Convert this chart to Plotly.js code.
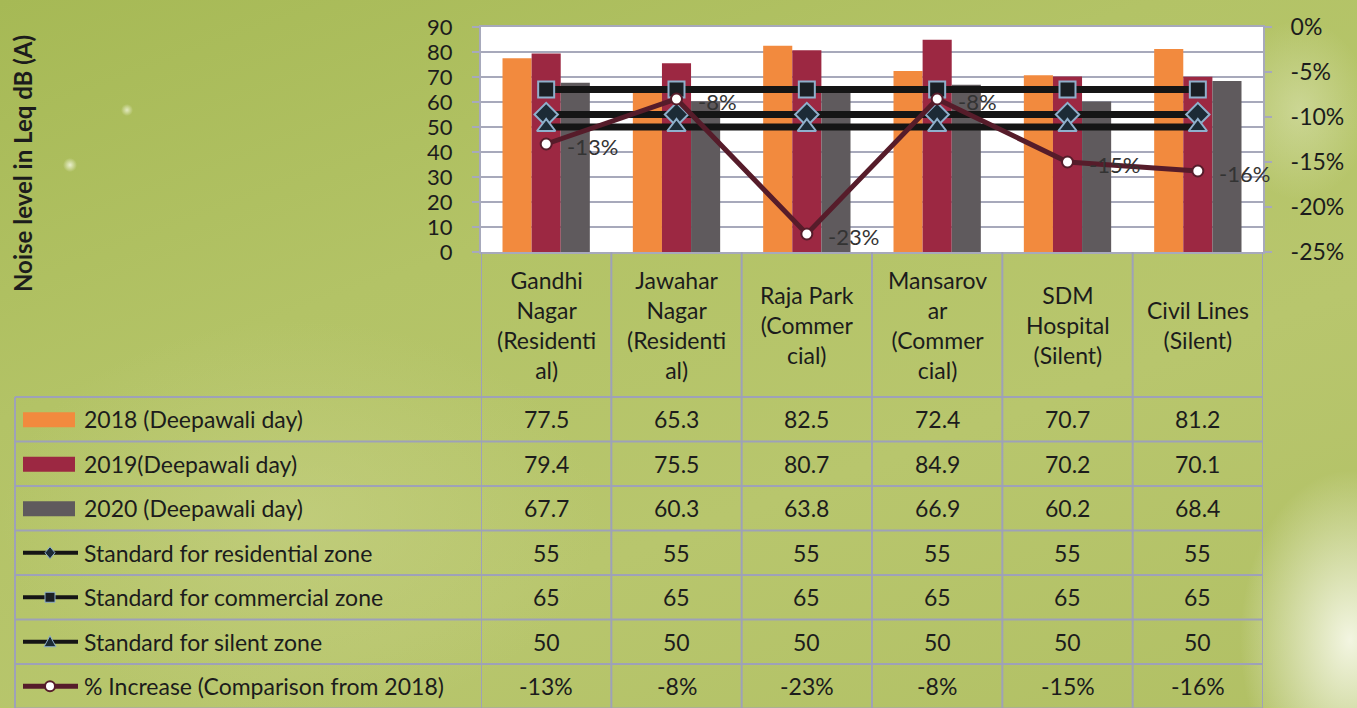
<!DOCTYPE html>
<html>
<head>
<meta charset="utf-8">
<script src="https://cdn.plot.ly/plotly-3.0.1.min.js"></script>
<style>
  html, body { margin: 0; padding: 0; }
  body {
    width: 1357px; height: 708px; overflow: hidden;
    background:
      radial-gradient(ellipse 110px 170px at 1350px 640px, rgba(246,248,232,0.95), rgba(246,248,232,0) 100%),
      radial-gradient(ellipse 70px 90px at 1300px 110px, rgba(225,232,190,0.5), rgba(225,232,190,0) 100%),
      radial-gradient(circle 7px at 70px 165px, rgba(250,252,235,0.8), rgba(250,252,235,0) 100%),
      radial-gradient(circle 6px at 127px 110px, rgba(250,252,235,0.7), rgba(250,252,235,0) 100%),
      radial-gradient(ellipse 300px 200px at 300px 520px, rgba(200,210,135,0.55), rgba(200,210,135,0) 100%),
      linear-gradient(160deg, #a6b955 0%, #b3c366 35%, #b8c66d 65%, #b1c064 100%);
  }
  #chart { width: 1357px; height: 708px; }
</style>
</head>
<body>
<div id="chart"></div>
<script>
// data
var categories = ['Gandhi Nagar', 'Jawahar Nagar', 'Raja Park', 'Mansarovar', 'SDM Hospital', 'Civil Lines'];
var catLabels = [
  'Gandhi<br>Nagar<br>(Residenti<br>al)',
  'Jawahar<br>Nagar<br>(Residenti<br>al)',
  'Raja Park<br>(Commer<br>cial)',
  'Mansarov<br>ar<br>(Commer<br>cial)',
  'SDM<br>Hospital<br>(Silent)',
  'Civil Lines<br>(Silent)'
];
var y2018 = [77.5, 65.3, 82.5, 72.4, 70.7, 81.2];
var y2019 = [79.4, 75.5, 80.7, 84.9, 70.2, 70.1];
var y2020 = [67.7, 60.3, 63.8, 66.9, 60.2, 68.4];
var stdResidential = [55, 55, 55, 55, 55, 55];
var stdCommercial = [65, 65, 65, 65, 65, 65];
var stdSilent = [50, 50, 50, 50, 50, 50];
var pctIncrease = [-0.13, -0.08, -0.23, -0.08, -0.15, -0.16];
var seriesNames = [
  '2018 (Deepawali day)',
  '2019(Deepawali day)',
  '2020 (Deepawali day)',
  'Standard for residential zone',
  'Standard for commercial zone',
  'Standard for silent zone',
  '% Increase (Comparison from 2018)'
];
var y1Ticks = [0, 10, 20, 30, 40, 50, 60, 70, 80, 90];
var y2Ticks = [0, -0.05, -0.10, -0.15, -0.20, -0.25];
var y2TickText = ['0%', '-5%', '-10%', '-15%', '-20%', '-25%'];

var FONT = 'Lato, "Open Sans", sans-serif';
var TXT = '#1c1c1c';
var GRID = '#a7a9bb';
var TABLE = '#9ea1b8';
var cOrange = '#f28a3e', cMaroon = '#9c2842', cGray = '#5f5a5d';
var cLine = '#151515', cMk = '#8fb0cc', cPct = '#561c2a';

// pixel helpers (plot area is 481..1263 x 27..252)
var PL = 481, PW = 782, PB = 252, PH = 225;
function xp(px) { return (px - PL) / PW; }
function yp(py) { return (PB - py) / PH; }

function pctText(v) { return Math.round(v * 100) + '%'; }
var pctLabels = pctIncrease.map(pctText);

var data = [
  { type: 'bar', x: categories, y: y2018, name: seriesNames[0], marker: { color: cOrange } },
  { type: 'bar', x: categories, y: y2019, name: seriesNames[1], marker: { color: cMaroon } },
  { type: 'bar', x: categories, y: y2020, name: seriesNames[2], marker: { color: cGray } },
  { type: 'scatter', mode: 'lines+markers', x: categories, y: stdResidential, name: seriesNames[3],
    line: { color: cLine, width: 7 },
    marker: { symbol: 'diamond', size: 18, color: '#1c2b36', line: { color: cMk, width: 2 } } },
  { type: 'scatter', mode: 'lines+markers', x: categories, y: stdCommercial, name: seriesNames[4],
    line: { color: cLine, width: 7 },
    marker: { symbol: 'square', size: 16, color: '#1a1f24', line: { color: cMk, width: 2 } } },
  { type: 'scatter', mode: 'lines+markers', x: categories, y: stdSilent, name: seriesNames[5],
    line: { color: cLine, width: 7 },
    marker: { symbol: 'triangle-up', size: 16, color: '#1c2b36', line: { color: cMk, width: 2 } } },
  { type: 'scatter', mode: 'lines+markers', x: categories, y: pctIncrease, yaxis: 'y2', name: seriesNames[6],
    line: { color: cPct, width: 5 },
    marker: { symbol: 'circle', size: 11, color: '#ffffff', line: { color: cPct, width: 2 } } }
];

var shapes = [];
var annotations = [];

// data labels of the % line, placed on the y2 scale
pctIncrease.forEach(function (v, j) {
  annotations.push({ xref: 'x', yref: 'y2', x: j, y: v, text: pctLabels[j], showarrow: false,
    xanchor: 'left', yanchor: 'middle', xshift: 19, yshift: -2,
    font: { family: FONT, size: 22, color: '#333333' } });
});

// table grid
var rowTop = 397, rowH = 44.5;
for (var r = 0; r <= 7; r++) {
  var ly = rowTop + r * rowH;
  shapes.push({ type: 'line', xref: 'paper', yref: 'paper', x0: xp(15), x1: xp(1263), y0: yp(ly), y1: yp(ly),
    line: { color: TABLE, width: 2 } });
}
for (var k = 0; k <= categories.length; k++) {
  shapes.push({ type: 'line', xref: 'x', yref: 'paper', x0: k - 0.5, x1: k - 0.5, y0: yp(252), y1: yp(708),
    line: { color: TABLE, width: 2 } });
}
shapes.push({ type: 'line', xref: 'paper', yref: 'paper', x0: xp(15), x1: xp(15), y0: yp(397), y1: yp(708),
  line: { color: TABLE, width: 2 } });

// category headers
categories.forEach(function (c, j) {
  annotations.push({ xref: 'x', yref: 'paper', x: j, y: yp(325), text: catLabels[j], showarrow: false,
    xanchor: 'center', yanchor: 'middle', align: 'center', font: { family: FONT, size: 23, color: TXT } });
});

// table rows
var rows = [y2018, y2019, y2020, stdResidential, stdCommercial, stdSilent, pctLabels];
var keyColors = [cOrange, cMaroon, cGray];
rows.forEach(function (vals, i) {
  var cy = rowTop + rowH * (i + 0.5);
  annotations.push({ xref: 'paper', yref: 'paper', x: xp(82), y: yp(cy), text: seriesNames[i], showarrow: false,
    xanchor: 'left', yanchor: 'middle', font: { family: FONT, size: 23, color: TXT } });
  vals.forEach(function (v, j) {
    annotations.push({ xref: 'x', yref: 'paper', x: j, y: yp(cy), text: String(v), showarrow: false,
      xanchor: 'center', yanchor: 'middle', font: { family: FONT, size: 23, color: TXT } });
  });
  // legend keys
  if (i < 3) {
    shapes.push({ type: 'rect', xref: 'paper', yref: 'paper', x0: xp(23), x1: xp(75), y0: yp(cy - 7), y1: yp(cy + 8),
      fillcolor: keyColors[i], line: { width: 0 } });
  } else {
    var lc = i === 6 ? cPct : cLine;
    shapes.push({ type: 'line', xref: 'paper', yref: 'paper', x0: xp(23), x1: xp(78), y0: yp(cy), y1: yp(cy),
      line: { color: lc, width: i === 6 ? 5 : 4 } });
    var mx = 50, s = 5, p;
    if (i === 3) {
      p = 'M' + xp(mx) + ',' + yp(cy - s - 1) + ' L' + xp(mx + s) + ',' + yp(cy) + ' L' + xp(mx) + ',' + yp(cy + s + 1) + ' L' + xp(mx - s) + ',' + yp(cy) + ' Z';
      shapes.push({ type: 'path', xref: 'paper', yref: 'paper', path: p, fillcolor: '#1c2b36', line: { color: cMk, width: 1 } });
    } else if (i === 4) {
      shapes.push({ type: 'rect', xref: 'paper', yref: 'paper', x0: xp(mx - s), x1: xp(mx + s), y0: yp(cy - s), y1: yp(cy + s),
        fillcolor: '#1a1f24', line: { color: cMk, width: 1 } });
    } else if (i === 5) {
      p = 'M' + xp(mx) + ',' + yp(cy - s - 1) + ' L' + xp(mx + s + 1) + ',' + yp(cy + s) + ' L' + xp(mx - s - 1) + ',' + yp(cy + s) + ' Z';
      shapes.push({ type: 'path', xref: 'paper', yref: 'paper', path: p, fillcolor: '#1c2b36', line: { color: cMk, width: 1 } });
    } else {
      shapes.push({ type: 'circle', xref: 'paper', yref: 'paper', x0: xp(mx - s), x1: xp(mx + s), y0: yp(cy - s), y1: yp(cy + s),
        fillcolor: '#ffffff', line: { color: cPct, width: 2 } });
    }
  }
});

// y axis title
annotations.push({ xref: 'paper', yref: 'paper', x: xp(23), y: yp(164), text: 'Noise level in Leq dB (A)', showarrow: false,
  textangle: -90, xanchor: 'center', yanchor: 'middle', font: { family: FONT, size: 24, color: TXT, weight: 'bold' } });

var layout = {
  width: 1357,
  height: 708,
  margin: { l: 481, r: 94, t: 27, b: 456, pad: 0 },
  paper_bgcolor: 'rgba(0,0,0,0)',
  plot_bgcolor: '#ffffff',
  font: { family: FONT, color: TXT },
  showlegend: false,
  barmode: 'group',
  bargap: 0.33,
  bargroupgap: 0,
  xaxis: {
    type: 'category', range: [-0.5, 5.5], showticklabels: false, ticks: '',
    showgrid: false, zeroline: false,
    showline: true, linecolor: GRID, linewidth: 2, mirror: true
  },
  yaxis: {
    range: [0, 90], tickvals: y1Ticks, ticks: 'outside', ticklen: 7, tickcolor: GRID, tickwidth: 2,
    ticklabelstandoff: 15,
    tickfont: { family: FONT, size: 22, color: TXT },
    showgrid: true, gridcolor: GRID, gridwidth: 2, zeroline: false,
    showline: true, linecolor: GRID, linewidth: 2, mirror: true
  },
  yaxis2: {
    overlaying: 'y', side: 'right', range: [-0.25, 0],
    tickvals: y2Ticks, ticktext: y2TickText, ticks: 'outside', ticklen: 8, tickcolor: GRID, tickwidth: 2,
    ticklabelstandoff: 14,
    tickfont: { family: FONT, size: 23, color: TXT },
    showgrid: false, zeroline: false, showline: false
  },
  shapes: shapes,
  annotations: annotations
};

Plotly.newPlot('chart', data, layout, { displayModeBar: false, staticPlot: true });
</script>
</body>
</html>
